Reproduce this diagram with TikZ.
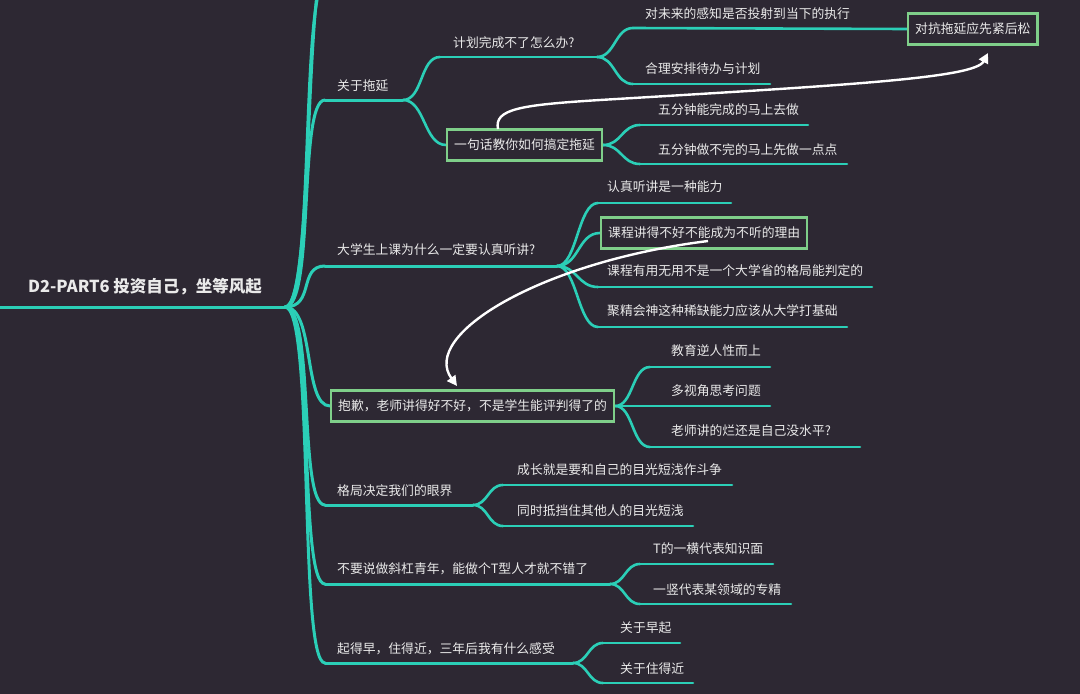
\documentclass[tikz,border=0pt]{standalone}
\usepackage{fontspec}
\setmainfont{Noto Sans CJK SC}
\usetikzlibrary{arrows.meta}
\definecolor{bg}{HTML}{2D2833}
\definecolor{tealc}{HTML}{2BCFB7}
\definecolor{boxg}{HTML}{7FCF8A}
\definecolor{txt}{HTML}{EAEAEA}
\begin{document}
\begin{tikzpicture}[x=1pt,y=-1pt,
  lbl/.style={anchor=west,inner sep=0pt,text=txt,font=\fontsize{12.8}{15}\selectfont},
  br/.style={draw=tealc,line width=3pt,line cap=round},
  con/.style={draw=tealc,line width=2.6pt,line cap=round},
  topicbox/.style={draw=boxg,line width=2.4pt,fill=bg,text=txt,font=\fontsize{12.8}{15}\selectfont,inner xsep=7pt,inner ysep=0pt,minimum height=31pt,anchor=west},
  arr/.style={draw=white,line width=2.4pt,-{Triangle[length=10pt,width=10pt]}}]
\useasboundingbox (0,0) rectangle (1080,694);
\fill[bg] (0,0) rectangle (1080,694);
\clip (0,0) rectangle (1080,694);

% root
\node[lbl,anchor=center,font=\bfseries\fontsize{16.5}{18}\selectfont] (root) at (145,287) {D2-PART6 投资自己，坐等风起};
\coordinate (root-s) at (0,307);
\coordinate (root-e) at (285,307);
\draw[br] (root-s) -- (root-e);

% main topic anchors
\coordinate (up1) at (327,-22);
\coordinate (up2) at (330,-50);
\coordinate (tuo-s) at (325,100); \coordinate (tuo-e) at (403,100);
\coordinate (dx-s) at (325,266);  \coordinate (dx-e) at (557,266);
\coordinate (gj-s) at (325,505);  \coordinate (gj-e) at (473,505);
\coordinate (tx-s) at (325,584);  \coordinate (tx-e) at (610,584);
\coordinate (qz-s) at (325,663);  \coordinate (qz-e) at (573,663);

% sub topic anchors
\coordinate (jh-s) at (440,57);  \coordinate (jh-e) at (597,57);
\coordinate (wl-s) at (633,28);
\coordinate (hl-s) at (633,84);  \coordinate (hl-e) at (770,84);
\coordinate (wf1-s) at (640,125); \coordinate (wf1-e) at (808,125);
\coordinate (wf2-s) at (640,164); \coordinate (wf2-e) at (847,164);
\coordinate (rz-s) at (598,203); \coordinate (rz-e) at (731,203);
\coordinate (ky-s) at (598,287); \coordinate (ky-e) at (872,287);
\coordinate (jj-s) at (598,327); \coordinate (jj-e) at (847,327);
\coordinate (jy-s) at (650,367); \coordinate (jy-e) at (770,367);
\coordinate (ds-e) at (770,406);
\coordinate (ls-s) at (650,447); \coordinate (ls-e) at (860,447);
\coordinate (cz-s) at (503,485); \coordinate (cz-e) at (732,485);
\coordinate (ts-s) at (503,526); \coordinate (ts-e) at (693,526);
\coordinate (th-s) at (640,564); \coordinate (th-e) at (773,564);
\coordinate (ys-s) at (640,604); \coordinate (ys-e) at (791,604);
\coordinate (zq-s) at (603,643); \coordinate (zq-e) at (680,643);
\coordinate (zj-s) at (603,683); \coordinate (zj-e) at (693,683);

% boxes (positions)
\node[topicbox] (bq) at (330,406) {抱歉，老师讲得好不好，不是学生能评判得了的};
\node[topicbox] (yj) at (446,145) {一句话教你如何搞定拖延};
\node[topicbox] (dk) at (907,29) {对抗拖延应先紧后松};
\node[topicbox] (kc) at (600,233) {课程讲得不好不能成为不听的理由};

% trunk curves
\draw[br] (root-e) .. controls +(30,0) and +(-27,0) .. (up1);
\draw[br] (root-e) .. controls +(30,0) and +(-27,0) .. (up2);
\draw[br] (root-e) .. controls +(30,0) and +(-27,0) .. (tuo-s);
\draw[br] (root-e) .. controls +(30,0) and +(-27,0) .. (dx-s);
\draw[br] (root-e) .. controls +(30,0) and +(-27,0) .. (bq.west);
\draw[br] (root-e) .. controls +(30,0) and +(-27,0) .. (gj-s);
\draw[br] (root-e) .. controls +(30,0) and +(-27,0) .. (tx-s);
\draw[br] (root-e) .. controls +(30,0) and +(-27,0) .. (qz-s);

% main topic underlines
\draw[br] (tuo-s) -- (tuo-e);
\draw[br] (dx-s) -- (dx-e);
\draw[br] (gj-s) -- (gj-e);
\draw[br] (tx-s) -- (tx-e);
\draw[br] (qz-s) -- (qz-e);

% 关于拖延
\draw[con] (tuo-e) .. controls +(20,0) and +(-20,0) .. (jh-s);
\draw[con] (tuo-e) .. controls +(22,0) and +(-22,0) .. (yj.west);
\draw[con] (jh-s) -- (jh-e);
\draw[con] (jh-e) .. controls +(18,0) and +(-18,0) .. (wl-s);
\draw[con] (jh-e) .. controls +(18,0) and +(-18,0) .. (hl-s);
\draw[con] (wl-s) -- (dk.west);
\draw[con] (hl-s) -- (hl-e);
\draw[con] (yj.east) .. controls +(18,0) and +(-18,0) .. (wf1-s);
\draw[con] (yj.east) .. controls +(18,0) and +(-18,0) .. (wf2-s);
\draw[con] (wf1-s) -- (wf1-e);
\draw[con] (wf2-s) -- (wf2-e);

% 大学生
\draw[con] (dx-e) .. controls +(20,0) and +(-20,0) .. (rz-s);
\draw[con] (dx-e) .. controls +(22,0) and +(-22,0) .. (kc.west);
\draw[con] (dx-e) .. controls +(20,0) and +(-20,0) .. (ky-s);
\draw[con] (dx-e) .. controls +(20,0) and +(-20,0) .. (jj-s);
\draw[con] (rz-s) -- (rz-e);
\draw[con] (ky-s) -- (ky-e);
\draw[con] (jj-s) -- (jj-e);

% 抱歉
\draw[con] (bq.east) .. controls +(18,0) and +(-18,0) .. (jy-s);
\draw[con] (bq.east) -- (ds-e);
\draw[con] (bq.east) .. controls +(18,0) and +(-18,0) .. (ls-s);
\draw[con] (jy-s) -- (jy-e);
\draw[con] (ls-s) -- (ls-e);

% 格局
\draw[con] (gj-e) .. controls +(15,0) and +(-15,0) .. (cz-s);
\draw[con] (gj-e) .. controls +(15,0) and +(-15,0) .. (ts-s);
\draw[con] (cz-s) -- (cz-e);
\draw[con] (ts-s) -- (ts-e);

% T型
\draw[con] (tx-e) .. controls +(15,0) and +(-15,0) .. (th-s);
\draw[con] (tx-e) .. controls +(15,0) and +(-15,0) .. (ys-s);
\draw[con] (th-s) -- (th-e);
\draw[con] (ys-s) -- (ys-e);

% 起得早
\draw[con] (qz-e) .. controls +(15,0) and +(-15,0) .. (zq-s);
\draw[con] (qz-e) .. controls +(15,0) and +(-15,0) .. (zj-s);
\draw[con] (zq-s) -- (zq-e);
\draw[con] (zj-s) -- (zj-e);

% redraw boxes on top of lines
\node[topicbox] at (bq.west) {抱歉，老师讲得好不好，不是学生能评判得了的};
\node[topicbox] at (yj.west) {一句话教你如何搞定拖延};
\node[topicbox] at (dk.west) {对抗拖延应先紧后松};
\node[topicbox] at (kc.west) {课程讲得不好不能成为不听的理由};

% labels
\node[lbl] (tuo) at (337,86) {关于拖延};
\node[lbl] (jh) at (453,43) {计划完成不了怎么办?};
\node[lbl] (wl) at (645,14) {对未来的感知是否投射到当下的执行};
\node[lbl] (hl) at (645,69) {合理安排待办与计划};
\node[lbl] (wf1) at (658,110) {五分钟能完成的马上去做};
\node[lbl] (wf2) at (658,150) {五分钟做不完的马上先做一点点};
\node[lbl] (dx) at (337,250) {大学生上课为什么一定要认真听讲?};
\node[lbl] (rz) at (607,187) {认真听讲是一种能力};
\node[lbl] (ky) at (607,271) {课程有用无用不是一个大学省的格局能判定的};
\node[lbl] (jj) at (607,311) {聚精会神这种稀缺能力应该从大学打基础};
\node[lbl] (jy) at (671,351) {教育逆人性而上};
\node[lbl] (ds) at (671,391) {多视角思考问题};
\node[lbl] (ls) at (671,431) {老师讲的烂还是自己没水平?};
\node[lbl] (gj) at (337,491) {格局决定我们的眼界};
\node[lbl] (cz) at (517,470) {成长就是要和自己的目光短浅作斗争};
\node[lbl] (ts) at (517,511) {同时抵挡住其他人的目光短浅};
\node[lbl] (tx) at (337,569) {不要说做斜杠青年，能做个T型人才就不错了};
\node[lbl] (th) at (653,549) {T的一横代表知识面};
\node[lbl] (ys) at (653,590) {一竖代表某领域的专精};
\node[lbl] (qz) at (337,649) {起得早，住得近，三年后我有什么感受};
\node[lbl] (zq) at (620,628) {关于早起};
\node[lbl] (zj) at (620,669) {关于住得近};

% white relation arrows
\coordinate (a1s) at (498,129);
\coordinate (a1m) at (600,100);
\coordinate (a1e) at (988,53);
\draw[arr] (a1s) .. controls (494,109) and (520,105) .. (a1m) .. controls (850,85) and (975,78) .. (a1e);
\coordinate (a2s) at (708,241);
\coordinate (a2e) at (457,386);
\draw[arr] (a2s) .. controls (540,262) and (420,335) .. (a2e);
\end{tikzpicture}
\end{document}
